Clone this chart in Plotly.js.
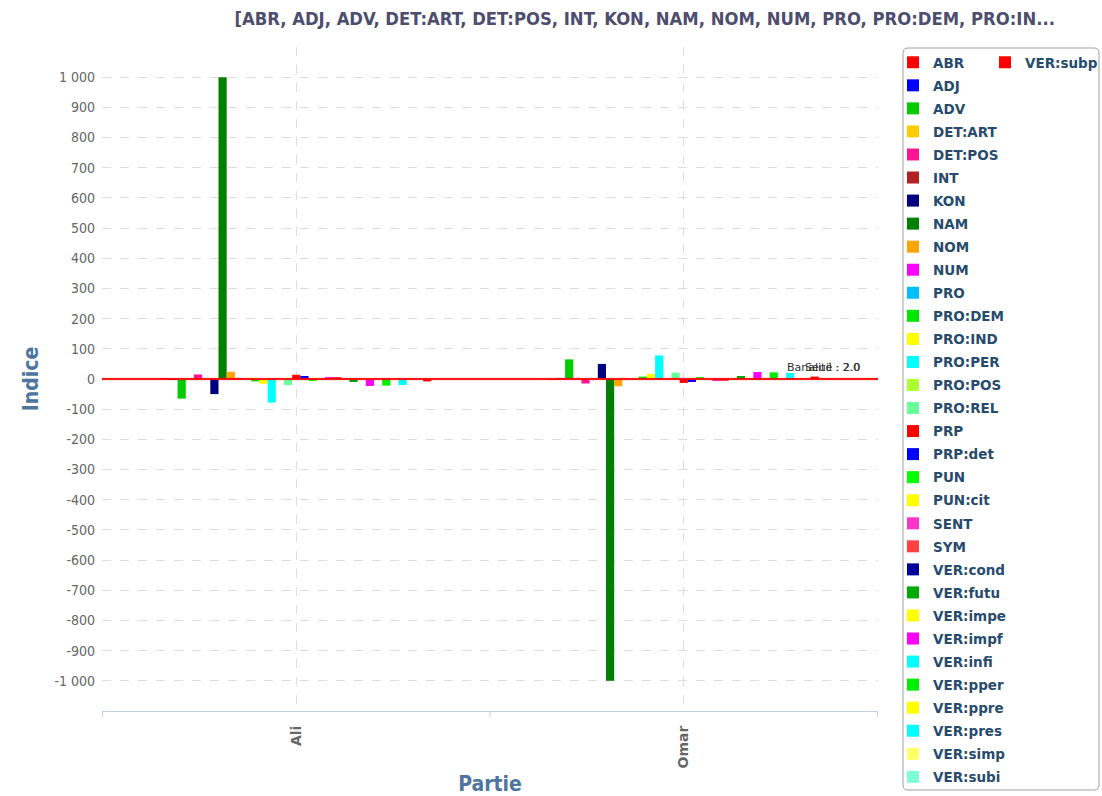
<!DOCTYPE html>
<html>
<head>
<meta charset="utf-8">
<script src="https://cdn.plot.ly/plotly-3.0.1.min.js"></script>
<style>html,body{margin:0;padding:0;background:#fff;}#chart{width:1102px;height:796px;}</style>
</head>
<body>
<div id="chart"></div>
<script>
var categories = ["Ali", "Omar"];
var seriesNames = ["ABR","ADJ","ADV","DET:ART","DET:POS","INT","KON","NAM","NOM","NUM","PRO","PRO:DEM","PRO:IND","PRO:PER","PRO:POS","PRO:REL","PRP","PRP:det","PUN","PUN:cit","SENT","SYM","VER:cond","VER:futu","VER:impe","VER:impf","VER:infi","VER:pper","VER:ppre","VER:pres","VER:simp","VER:subi","VER:subp"];
var seriesColors = ["#FF0000","#0000FF","#00CC00","#FFCC00","#FF1493","#B22222","#000080","#008000","#FFA500","#FF00FF","#00BFFF","#00E600","#FFFF00","#00FFFF","#ADFF2F","#66FF99","#FF0000","#0000FF","#00FF00","#FFFF00","#FF33CC","#FF4040","#000099","#00AA00","#FFFF00","#FF00FF","#00FFFF","#00EE00","#FFFF00","#00FFFF","#FFFF66","#7FFFD4","#FF0000"];
var aliValues  = [2, -1, -65, 3, 15, 0, -50, 1000, 24, 3, 0, -8, -16, -78, 0, -20, 14, 10, -6, 2, 7, 5, 0, -10, 0, -23, 0, -22, 0, -20, 0, 0, -8];
var omarValues = [-2, 1, 65, -3, -15, 0, 50, -1000, -24, -3, 0, 8, 17, 78, 0, 21, -13, -10, 6, -2, -7, -5, 0, 10, 0, 23, 0, 22, 0, 20, 0, 0, 8];
var yTickVals = [1000, 900, 800, 700, 600, 500, 400, 300, 200, 100, 0, -100, -200, -300, -400, -500, -600, -700, -800, -900, -1000];
var yTickLabels = ["1 000", "900", "800", "700", "600", "500", "400", "300", "200", "100", "0", "-100", "-200", "-300", "-400", "-500", "-600", "-700", "-800", "-900", "-1 000"];
var thresholds = [2, -2];
var thresholdLabels = ["Banalité : 2.0", "Seuil : 2.0"];

var traces = seriesNames.map(function(name, i){
  return {
    type: "bar",
    name: name,
    x: categories,
    y: [aliValues[i], omarValues[i]],
    marker: {color: seriesColors[i]},
    legendgroup: name,
    legend: (i === seriesNames.length - 1) ? "legend2" : "legend",
    hoverinfo: "x+y+name"
  };
});

var shapes = thresholds.map(function(t){
  return {type: "line", xref: "paper", yref: "y", x0: 0, x1: 1, y0: t, y1: t,
          line: {color: "#FF0000", width: 1}, layer: "above"};
});
// category boundary tick marks
[-0.5, 0.5, 1.5].forEach(function(b){
  shapes.push({type: "line", xref: "x", yref: "paper", x0: b, x1: b, y0: 0, y1: -0.009,
               line: {color: "#C0D0E0", width: 1}});
});
// legend frame (rounded)
(function(){
  function px(x){ return (x - 102) / 776; }
  function py(y){ return (711 - y) / 664; }
  var L = 903, R = 1099, T = 48, B = 790, r = 5;
  var path = "M" + px(L + r) + "," + py(T) +
    " L" + px(R - r) + "," + py(T) +
    " Q" + px(R) + "," + py(T) + " " + px(R) + "," + py(T + r) +
    " L" + px(R) + "," + py(B - r) +
    " Q" + px(R) + "," + py(B) + " " + px(R - r) + "," + py(B) +
    " L" + px(L + r) + "," + py(B) +
    " Q" + px(L) + "," + py(B) + " " + px(L) + "," + py(B - r) +
    " L" + px(L) + "," + py(T + r) +
    " Q" + px(L) + "," + py(T) + " " + px(L + r) + "," + py(T) + " Z";
  shapes.push({type: "path", xref: "paper", yref: "paper", path: path,
    line: {color: "#A0A0A0", width: 1}, fillcolor: "rgba(0,0,0,0)"});
})();

var annotations = thresholdLabels.map(function(txt, i){
  return {xref: "paper", yref: "y", x: 0.98, y: thresholds[0], xanchor: "right", yanchor: "bottom",
          text: txt, showarrow: false, font: {family: "DejaVu Sans, sans-serif", size: 11, color: "#333"}, yshift: 2};
});

var legendFont = {family: "DejaVu Sans, sans-serif", size: 13.5, color: "#274b6d", weight: "bold"};

var layout = {
  width: 1102, height: 796,
  margin: {l: 102, r: 224, t: 47, b: 85},
  paper_bgcolor: "#fff", plot_bgcolor: "#fff",
  title: {text: "[ABR, ADJ, ADV, DET:ART, DET:POS, INT, KON, NAM, NOM, NUM, PRO, PRO:DEM, PRO:IN...",
          xref: "container", yref: "container", x: 0.585, y: 0.977, xanchor: "center", yanchor: "middle",
          font: {family: "DejaVu Sans Condensed, Liberation Sans Narrow, sans-serif", size: 18.3, color: "#4d4d6e", weight: "bold"}},
  barmode: "group",
  bargap: 0.303,
  bargroupgap: 0,
  xaxis: {
    type: "category",
    showgrid: true, gridcolor: "#DDDDDD", griddash: "dash", gridwidth: 1,
    showline: true, linecolor: "#C0D0E0", linewidth: 1,
    ticks: "", tickangle: -90, ticklabelstandoff: 8,
    tickfont: {family: "DejaVu Sans, sans-serif", size: 14, color: "#666", weight: "bold"},
    title: {text: "Partie", standoff: 8,
            font: {family: "DejaVu Sans Condensed, Liberation Sans Narrow, sans-serif", size: 21, color: "#4d759e", weight: "bold"}},
    automargin: false, fixedrange: true
  },
  yaxis: {
    range: [-1100, 1100], tickmode: "array", tickvals: yTickVals, ticktext: yTickLabels,
    showgrid: true, gridcolor: "#DDDDDD", griddash: "dash", gridwidth: 1,
    zeroline: false, showline: false, ticks: "",
    ticklabelstandoff: 6,
    tickfont: {family: "DejaVu Sans Condensed, Liberation Sans Narrow, sans-serif", size: 14, color: "#666"},
    title: {text: "Indice", standoff: 10,
            font: {family: "DejaVu Sans Condensed, Liberation Sans Narrow, sans-serif", size: 21, color: "#4d759e", weight: "bold"}},
    automargin: false, fixedrange: true
  },
  legend: {
    xref: "container", yref: "container", x: 893/1102, y: 1 - 47/796, xanchor: "left", yanchor: "top",
    orientation: "v", font: legendFont, bgcolor: "rgba(0,0,0,0)", borderwidth: 0,
    tracegroupgap: 2.5, traceorder: "grouped", maxheight: 770,
    itemclick: false, itemdoubleclick: false
  },
  legend2: {
    xref: "container", yref: "container", x: 985/1102, y: 1 - 47/796, xanchor: "left", yanchor: "top",
    orientation: "v", font: legendFont, bgcolor: "rgba(0,0,0,0)", borderwidth: 0,
    itemclick: false, itemdoubleclick: false
  },
  shapes: shapes,
  annotations: annotations,
  showlegend: true
};

Plotly.newPlot("chart", traces, layout, {displayModeBar: false});
</script>
</body>
</html>
